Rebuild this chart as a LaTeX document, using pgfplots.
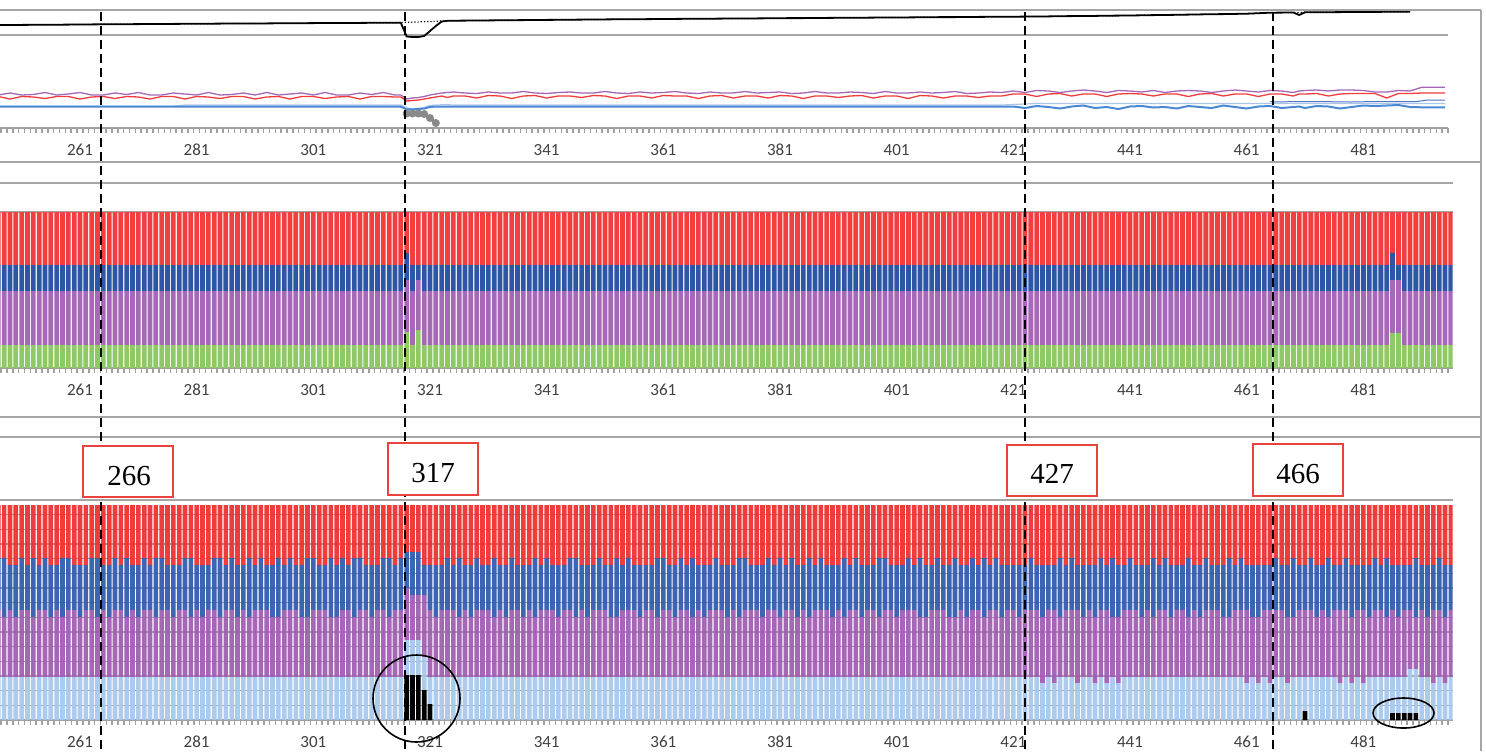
\documentclass[border=0pt]{standalone}
\usepackage{pgfplots}
\pgfplotsset{compat=1.18}
\usepackage{pgfplotstable}
\usepackage{fontspec}
\setmainfont{Carlito}
\newfontfamily\boxfont{Liberation Serif}

\definecolor{axgray}{HTML}{A0A0A0}
\definecolor{gridgray}{HTML}{A6A6A6}
\definecolor{framegray}{HTML}{A6A6A6}
\definecolor{labgray}{HTML}{404040}
\definecolor{lnpurple}{HTML}{A566B6}
\definecolor{lnred}{HTML}{F03C3C}
\definecolor{lnblue}{HTML}{4A88D4}
\definecolor{lnlblue}{HTML}{A9C6EA}
\definecolor{lndblue}{HTML}{4E74C4}
\definecolor{lngray}{HTML}{8A8A8A}
\definecolor{tred}{HTML}{F23E3E}
\definecolor{tblue}{HTML}{2E56A6}
\definecolor{tpurple}{HTML}{A868B8}
\definecolor{tgreen}{HTML}{8FC966}
\definecolor{bred}{HTML}{EE2C2C}
\definecolor{bblue}{HTML}{2C58AC}
\definecolor{bpurple}{HTML}{A05AB1}
\definecolor{blblue}{HTML}{A6C7EC}
\definecolor{boxred}{HTML}{E8433F}

\pgfplotstableread{
x bk bd pu re bl lb
247 103.0 103.0 33 31.5 21.3 21.8
249 103.1 103.1 35 29 21.3 21.8
251 103.1 103.1 33 31.5 21.3 21.8
253 103.2 103.2 33.5 31 21.3 21.8
255 103.3 103.3 35.5 29.5 21.3 21.8
257 103.3 103.3 33 31.5 21.3 21.8
259 103.4 103.4 34 31.5 21.3 21.8
261 103.5 103.5 35.5 29 21.3 21.8
263 103.6 103.6 33 31 21.3 21.8
265 103.7 103.7 33 31.5 21.3 21.8
267 103.8 103.8 35 29.5 21.3 21.8
269 103.8 103.8 33.5 31.5 21.3 21.8
271 103.9 103.9 35.5 31 21.3 21.8
273 104.0 104.0 33 29 21.3 21.8
275 104.0 104.0 33 31.5 21.3 21.8
277 104.1 104.1 35 31.5 21.3 21.8
279 104.2 104.2 34 29 21.3 23
281 104.3 104.3 33 31.5 21.3 23
283 104.3 104.3 35.5 31 21.3 23
285 104.4 104.4 33 29.5 21.3 23
287 104.5 104.5 33.5 31.5 21.3 23
289 104.5 104.5 35 31.5 21.3 23
291 104.6 104.6 33 29 21.3 23
293 104.6 104.6 35.5 31 21.3 23
295 104.7 104.7 33 31.5 21.3 23
297 104.8 104.8 34 29 21.3 23
299 104.8 104.8 35 31.5 21.3 23
301 104.9 104.9 33 31.5 21.3 23
303 105.0 105.0 35.5 29.5 21.3 23
305 105.0 105.0 33 31 21.3 23
307 105.1 105.1 33 31.5 21.3 23
309 105.1 105.1 35 29 21.3 23
311 105.2 105.2 33.5 31.5 21.3 23
313 105.2 105.2 35.5 31.5 21.3 23
315 105.3 105.3 33 31 21.3 23
316 105.3 105.5 33 31 21.3 23
317 91.5 105.7 29 27 18.7 20
318 91 105.9 30 27.5 18.5 19
319 91 106.1 30.5 28 19 19.5
320 92 106.3 31.5 29 19.5 20.5
321 97 106.5 33 30 21 22.5
322 102 106.7 34 31 21.5 23
323 106.5 107.0 35 32 21.3 23.2
324 107.2 107.2 35.5 30.5 21.3 23.3
325 107.3 107.3 36 32 21.3 23
327 107.4 107.4 35 32 21.3 23
329 107.5 107.5 34.5 30 21.3 23
331 107.6 107.6 36 32.5 21.3 23
333 107.7 107.7 35 32 21.3 23
335 107.8 107.8 35 29.5 21.3 23
337 107.9 107.9 36.5 32 21.3 23
339 108.0 108.0 35 32.5 21.3 23
341 108.1 108.1 34.5 30 21.3 23
343 108.2 108.2 35.5 32 21.3 23
345 108.3 108.3 36 32 21.3 23
347 108.4 108.4 35 30.5 21.3 23
349 108.5 108.5 35 32.5 21.3 23
351 108.6 108.6 36.5 32 21.3 23
353 108.7 108.7 35 29.5 21.3 23
355 108.8 108.8 34.5 32 21.3 23
357 108.8 108.8 36 32 21.3 23
359 108.9 108.9 35 30 21.3 23
361 109.0 109.0 35.5 32.5 21.3 23
363 109.1 109.1 36.5 32 21.3 23
365 109.2 109.2 35 32 21.3 23
367 109.2 109.2 34.5 29.5 21.3 23
369 109.3 109.3 36 32 21.3 23
371 109.4 109.4 35 32.5 21.3 23
373 109.5 109.5 35 30 21.3 23
375 109.6 109.6 36.5 32 21.3 23
377 109.6 109.6 35 32 21.3 23
379 109.7 109.7 35.5 30 21.3 23
381 109.8 109.8 36 32.5 21.3 23
383 109.9 109.9 34.5 32 21.3 23
385 109.9 109.9 35 29.5 21.3 23
387 110.0 110.0 36.5 32 21.3 23
389 110.1 110.1 35 32 21.3 23
391 110.2 110.2 35 30.5 21.3 23
393 110.3 110.3 36 32 21.3 23
395 110.3 110.3 35.5 32.5 21.3 23
397 110.4 110.4 34.5 30 21.3 23
399 110.5 110.5 36.5 32 21.3 23
401 110.6 110.6 35 32 21.3 23
403 110.6 110.6 35 29.5 21.3 23
405 110.7 110.7 36 32.5 21.3 23
407 110.8 110.8 35 32 21.3 23
409 110.9 110.9 35.5 30 21.3 23
411 110.9 110.9 36.5 32 21.3 23
413 111.0 111.0 34.5 32 21.3 23
415 111.1 111.1 35 30.5 21.3 23
417 111.2 111.2 36 32 21.3 23
419 111.2 111.2 35.5 32 21.3 23
421 111.3 111.3 37 34 21.5 23.5
423 111.4 111.4 35.5 34 20 24
425 111.5 111.5 37.5 31.5 22 24.5
427 111.6 111.6 37 34 21 24.5
429 111.8 111.8 35.5 34.5 19.5 24.5
431 111.9 111.9 37 32 21.5 24.5
433 112.0 112.0 38 34 22.5 24.5
435 112.1 112.1 37 34 20 24.5
437 112.3 112.3 35.5 31.5 21 24.5
439 112.4 112.4 37.5 34 19 24.5
441 112.5 112.5 37 34.5 21.5 24.5
443 112.7 112.7 36 34 22 24.5
445 112.9 112.9 37.5 32 20.5 24.5
447 113.0 113.0 35.5 34 21 24.5
449 113.2 113.2 37 34 19.5 24.5
451 113.4 113.4 37.5 31.5 22 24.5
453 113.6 113.6 37 34 21 24.5
455 113.8 113.8 35.5 34.5 20 24.5
457 113.9 113.9 37 32 22.5 24.5
459 114.1 114.1 38 34 21 24.5
461 114.3 114.3 37 34 19.5 24.5
463 114.8 114.8 36 31.5 21.5 24.5
465 115.3 115.3 37.5 34 22 24.5
467 115.4 115.4 37 34 20 24.5
469 115.5 115.5 35.5 32 21 24.5
470 113.0 115.6 37 34 21.5 24.5
471 115.7 115.7 37.5 34 20 24.5
473 115.8 115.8 38 34.5 22 24.5
475 115.8 115.8 37 32 21.5 24.5
477 115.9 115.9 38 34 19.5 24.5
479 116.0 116.0 38 34.5 21 24.5
481 116.1 116.1 37.5 34.5 22.5 24.5
483 116.1 116.1 36 34.5 22 24.5
485 116.2 116.2 36 30 22.5 24.5
487 116.2 116.2 37.5 34.5 23 24.5
489 116.3 116.3 37 34.5 21 24.5
491 nan nan 40.7 35 20.7 24.5
493 nan nan 40.7 35 20.7 24.5
495 nan nan 40.7 35 20.7 24.5
}\linesdata

\pgfplotstableread{
x g p b r k lb pu bl re
247 23 54 26 53 0 43 67 52 53
248 23 54 26 53 0 43 60 59 53
249 23 54 26 53 0 43 67 45 60
250 23 54 26 53 0 43 60 52 60
251 23 54 26 53 0 43 67 52 53
252 23 54 26 53 0 43 67 45 60
253 23 54 26 53 0 43 60 59 53
254 23 54 26 53 0 43 67 45 60
255 23 54 26 53 0 43 67 52 53
256 23 54 26 53 0 43 60 52 60
257 23 54 26 53 0 43 67 45 60
258 23 54 26 53 0 43 60 59 53
259 23 54 26 53 0 43 67 52 53
260 23 54 26 53 0 43 67 45 60
261 23 54 26 53 0 43 60 52 60
262 23 54 26 53 0 43 67 45 60
263 23 54 26 53 0 43 67 52 53
264 23 54 26 53 0 43 60 59 53
265 23 54 26 53 0 43 67 45 60
266 23 54 26 53 0 43 60 52 60
267 23 54 26 53 0 43 67 52 53
268 23 54 26 53 0 43 67 45 60
269 23 54 26 53 0 43 60 59 53
270 23 54 26 53 0 43 67 45 60
271 23 54 26 53 0 43 60 52 60
272 23 54 26 53 0 43 67 52 53
273 23 54 26 53 0 43 67 45 60
274 23 54 26 53 0 43 60 59 53
275 23 54 26 53 0 43 67 52 53
276 23 54 26 53 0 43 67 45 60
277 23 54 26 53 0 43 60 52 60
278 23 54 26 53 0 43 67 45 60
279 23 54 26 53 0 43 67 52 53
280 23 54 26 53 0 43 60 59 53
281 23 54 26 53 0 43 67 45 60
282 23 54 26 53 0 43 60 52 60
283 23 54 26 53 0 43 67 45 60
284 23 54 26 53 0 43 67 52 53
285 23 54 26 53 0 43 60 59 53
286 23 54 26 53 0 43 67 45 60
287 23 54 26 53 0 43 67 52 53
288 23 54 26 53 0 43 60 52 60
289 23 54 26 53 0 43 67 45 60
290 23 54 26 53 0 43 60 59 53
291 23 54 26 53 0 43 67 45 60
292 23 54 26 53 0 43 67 52 53
293 23 54 26 53 0 43 67 45 60
294 23 54 26 53 0 43 60 52 60
295 23 54 26 53 0 43 60 59 53
296 23 54 26 53 0 43 67 45 60
297 23 54 26 53 0 43 67 52 53
298 23 54 26 53 0 43 67 45 60
299 23 54 26 53 0 43 60 52 60
300 23 54 26 53 0 43 60 59 53
301 23 54 26 53 0 43 67 52 53
302 23 54 26 53 0 43 67 45 60
303 23 54 26 53 0 43 67 45 60
304 23 54 26 53 0 43 60 59 53
305 23 54 26 53 0 43 60 52 60
306 23 54 26 53 0 43 67 52 53
307 23 54 26 53 0 43 67 45 60
308 23 54 26 53 0 43 60 59 53
309 23 54 26 53 0 43 67 52 53
310 23 54 26 53 0 43 67 45 60
311 23 54 26 53 0 43 60 52 60
312 23 54 26 53 0 43 67 45 60
313 23 54 26 53 0 43 67 52 53
314 23 54 26 53 0 43 60 59 53
315 23 54 26 53 0 43 67 45 60
316 23 54 26 53 0 43 67 52 53
317 36 52 27 41 45 35 52 36 47
318 23 54 26 53 45 35 45 43 47
319 38 50 15 53 45 35 45 43 47
320 23 54 26 53 30 33 62 30 60
321 23 54 26 53 16 27 67 45 60
322 23 54 26 53 0 43 60 52 60
323 23 54 26 53 0 43 67 45 60
324 23 54 26 53 0 43 67 52 53
325 23 54 26 53 0 43 67 45 60
326 23 54 26 53 0 43 60 59 53
327 23 54 26 53 0 43 67 45 60
328 23 54 26 53 0 43 60 52 60
329 23 54 26 53 0 43 67 52 53
330 23 54 26 53 0 43 67 45 60
331 23 54 26 53 0 43 67 45 60
332 23 54 26 53 0 43 60 59 53
333 23 54 26 53 0 43 67 45 60
334 23 54 26 53 0 43 60 52 60
335 23 54 26 53 0 43 67 52 53
336 23 54 26 53 0 43 67 45 60
337 23 54 26 53 0 43 60 52 60
338 23 54 26 53 0 43 67 45 60
339 23 54 26 53 0 43 60 59 53
340 23 54 26 53 0 43 67 45 60
341 23 54 26 53 0 43 67 52 53
342 23 54 26 53 0 43 67 45 60
343 23 54 26 53 0 43 60 52 60
344 23 54 26 53 0 43 67 45 60
345 23 54 26 53 0 43 67 52 53
346 23 54 26 53 0 43 60 59 53
347 23 54 26 53 0 43 67 45 60
348 23 54 26 53 0 43 60 52 60
349 23 54 26 53 0 43 67 45 60
350 23 54 26 53 0 43 67 52 53
351 23 54 26 53 0 43 67 45 60
352 23 54 26 53 0 43 60 52 60
353 23 54 26 53 0 43 60 59 53
354 23 54 26 53 0 43 67 45 60
355 23 54 26 53 0 43 67 52 53
356 23 54 26 53 0 43 67 45 60
357 23 54 26 53 0 43 60 52 60
358 23 54 26 53 0 43 67 45 60
359 23 54 26 53 0 43 67 45 60
360 23 54 26 53 0 43 60 59 53
361 23 54 26 53 0 43 67 52 53
362 23 54 26 53 0 43 67 45 60
363 23 54 26 53 0 43 60 52 60
364 23 54 26 53 0 43 67 52 53
365 23 54 26 53 0 43 67 45 60
366 23 54 26 53 0 43 60 59 53
367 23 54 26 53 0 43 67 45 60
368 23 54 26 53 0 43 60 52 60
369 23 54 26 53 0 43 67 45 60
370 23 54 26 53 0 43 67 52 53
371 23 54 26 53 0 43 67 45 60
372 23 54 26 53 0 43 60 52 60
373 23 54 26 53 0 43 67 45 60
374 23 54 26 53 0 43 60 59 53
375 23 54 26 53 0 43 67 52 53
376 23 54 26 53 0 43 67 45 60
377 23 54 26 53 0 43 67 45 60
378 23 54 26 53 0 43 60 52 60
379 23 54 26 53 0 43 67 52 53
380 23 54 26 53 0 43 67 45 60
381 23 54 26 53 0 43 60 59 53
382 23 54 26 53 0 43 67 45 60
383 23 54 26 53 0 43 67 52 53
384 23 54 26 53 0 43 60 52 60
385 23 54 26 53 0 43 67 45 60
386 23 54 26 53 0 43 60 59 53
387 23 54 26 53 0 43 67 45 60
388 23 54 26 53 0 43 67 52 53
389 23 54 26 53 0 43 67 45 60
390 23 54 26 53 0 43 60 52 60
391 23 54 26 53 0 43 67 45 60
392 23 54 26 53 0 43 60 59 53
393 23 54 26 53 0 43 67 45 60
394 23 54 26 53 0 43 67 52 53
395 23 54 26 53 0 43 60 52 60
396 23 54 26 53 0 43 67 45 60
397 23 54 26 53 0 43 67 45 60
398 23 54 26 53 0 43 60 59 53
399 23 54 26 53 0 43 67 52 53
400 23 54 26 53 0 43 67 45 60
401 23 54 26 53 0 43 60 52 60
402 23 54 26 53 0 43 67 45 60
403 23 54 26 53 0 43 67 52 53
404 23 54 26 53 0 43 67 45 60
405 23 54 26 53 0 43 60 59 53
406 23 54 26 53 0 43 60 52 60
407 23 54 26 53 0 43 67 45 60
408 23 54 26 53 0 43 67 52 53
409 23 54 26 53 0 43 67 45 60
410 23 54 26 53 0 43 60 52 60
411 23 54 26 53 0 43 60 59 53
412 23 54 26 53 0 43 67 45 60
413 23 54 26 53 0 43 60 52 60
414 23 54 26 53 0 43 67 52 53
415 23 54 26 53 0 43 67 45 60
416 23 54 26 53 0 43 60 59 53
417 23 54 26 53 0 43 67 45 60
418 23 54 26 53 0 43 67 52 53
419 23 54 26 53 0 43 60 52 60
420 23 54 26 53 0 43 67 45 60
421 23 54 26 53 0 43 67 45 60
422 23 54 26 53 0 43 60 52 60
423 23 54 26 53 0 43 67 45 60
424 23 54 26 53 0 43 67 52 53
425 23 54 26 53 0 43 67 45 60
426 23 54 26 53 0 37 66 52 60
427 23 54 26 53 0 43 67 45 60
428 23 54 26 53 0 37 73 45 60
429 23 54 26 53 0 43 60 59 53
430 23 54 26 53 0 43 67 45 60
431 23 54 26 53 0 43 67 52 53
432 23 54 26 53 0 37 73 45 60
433 23 54 26 53 0 43 60 52 60
434 23 54 26 53 0 43 67 45 60
435 23 54 26 53 0 37 66 52 60
436 23 54 26 53 0 43 67 52 53
437 23 54 26 53 0 37 73 45 60
438 23 54 26 53 0 43 60 59 53
439 23 54 26 53 0 37 66 52 60
440 23 54 26 53 0 43 67 45 60
441 23 54 26 53 0 43 67 52 53
442 23 54 26 53 0 43 67 45 60
443 23 54 26 53 0 43 60 52 60
444 23 54 26 53 0 43 67 45 60
445 23 54 26 53 0 43 60 59 53
446 23 54 26 53 0 43 67 45 60
447 23 54 26 53 0 43 67 52 53
448 23 54 26 53 0 43 60 52 60
449 23 54 26 53 0 43 67 45 60
450 23 54 26 53 0 43 67 45 60
451 23 54 26 53 0 43 60 59 53
452 23 54 26 53 0 43 67 45 60
453 23 54 26 53 0 43 60 52 60
454 23 54 26 53 0 43 67 52 53
455 23 54 26 53 0 43 67 45 60
456 23 54 26 53 0 43 67 45 60
457 23 54 26 53 0 43 60 52 60
458 23 54 26 53 0 43 60 59 53
459 23 54 26 53 0 43 67 45 60
460 23 54 26 53 0 43 67 52 53
461 23 54 26 53 0 37 73 45 60
462 23 54 26 53 0 43 60 52 60
463 23 54 26 53 0 37 66 52 60
464 23 54 26 53 0 43 67 45 60
465 23 54 26 53 0 37 73 45 60
466 23 54 26 53 0 43 67 52 53
467 23 54 26 53 0 43 67 45 60
468 23 54 26 53 0 37 66 52 60
469 23 54 26 53 0 43 60 59 53
470 23 54 26 53 0 43 67 45 60
471 23 54 26 53 9 34 67 45 60
472 23 54 26 53 0 43 67 52 53
473 23 54 26 53 0 43 60 52 60
474 23 54 26 53 0 43 67 45 60
475 23 54 26 53 0 43 60 59 53
476 23 54 26 53 0 43 67 45 60
477 23 54 26 53 0 37 73 45 60
478 23 54 26 53 0 43 67 52 53
479 23 54 26 53 0 37 66 52 60
480 23 54 26 53 0 43 67 45 60
481 23 54 26 53 0 37 73 45 60
482 23 54 26 53 0 43 60 52 60
483 23 54 26 53 0 43 67 52 53
484 23 54 26 53 0 43 67 45 60
485 23 54 26 53 0 43 60 59 53
486 35 53 27 41 7 36 67 45 60
487 35 53 15 53 7 36 60 52 60
488 23 54 26 53 7 36 67 45 60
489 23 54 26 53 7 44 59 45 60
490 23 54 26 53 7 44 52 59 53
491 23 54 26 53 0 43 67 45 60
492 23 54 26 53 0 43 60 52 60
493 23 54 26 53 0 37 73 45 60
494 23 54 26 53 0 43 67 52 53
495 23 54 26 53 0 37 66 52 60
496 23 54 26 53 0 43 67 45 60
}\barsdata

\pgfplotsset{
  panel/.style={
    scale only axis,
    xmin=247.286,
    ymin=0,
    axis x line*=bottom,
    axis y line*=left,
    x axis line style={-, draw=axgray, line width=1pt},
    y axis line style={draw=none},
    xtick={261,281,...,481},
    minor xtick={247.5,248.5,...,496.5},
    major tick length=0pt,
    minor tick length=2.3pt,
    tick align=outside,
    xtick pos=bottom,
    ytick pos=left,
    minor tick style={axgray, line width=0.75pt},
    /pgf/number format/assume math mode=true,
    xticklabel style={font=\fontsize{8.5}{9}\selectfont, text=labgray,
      text height=5.6pt, text depth=0pt, yshift=-4.6pt},
    yticklabels={},
    ymajorgrids,
    grid style={gridgray, line width=0.7pt},
  }
}

\begin{document}
\begin{tikzpicture}
\path[use as bounding box] (0,0) rectangle (743pt,-375.5pt);
\clip (0,0) rectangle (743pt,-375.5pt);

% ---------- panel 1: lines ----------
\begin{axis}[panel, at={(0pt,-64pt)}, anchor=south west,
  width=723.95pt, height=59pt, xmax=495.5, ymax=118, ytick={93}]
\addplot[lnlblue, line width=0.6pt] table[x=x,y=lb]{\linesdata};
\addplot[lndblue, line width=0.5pt] coordinates {(465,26.3) (467,26) (469,26.5) (471,26.3) (475,26.3) (479,26) (483,26.5) (487,26.3) (490,26.3) (492,28) (495,28)};
\addplot[lnblue, line width=1pt] table[x=x,y=bl]{\linesdata};
\addplot[lnred, line width=0.65pt] table[x=x,y=re]{\linesdata};
\addplot[lnpurple, line width=0.65pt] table[x=x,y=pu]{\linesdata};
\addplot[black, line width=0.6pt, densely dotted, unbounded coords=jump] table[x=x,y=bd]{\linesdata};
\addplot[black, line width=0.9pt, unbounded coords=jump] table[x=x,y=bk]{\linesdata};
\addplot[lngray, line width=1.5pt, mark=*, mark size=1.2pt] coordinates {(317,14.5) (318,14.5) (319,14.5) (320,14) (321,10) (322,5)};
\end{axis}

% ---------- panel 2: 100% stacked ----------
\begin{axis}[panel, at={(0pt,-184pt)}, anchor=south west,
  width=726.3pt, height=92.5pt, xmax=496.3, ymax=185, ytick={156,185},
  ybar stacked, bar width=0.82]
\addplot[fill=tgreen, draw=none] table[x=x,y=g]{\barsdata};
\addplot[fill=tpurple, draw=none] table[x=x,y=p]{\barsdata};
\addplot[fill=tblue, draw=none] table[x=x,y=b]{\barsdata};
\addplot[fill=tred, draw=none] table[x=x,y=r]{\barsdata};
\end{axis}

% ---------- panel 3: stacked ----------
\begin{axis}[panel, at={(0pt,-360pt)}, anchor=south west,
  width=726.3pt, height=110pt, xmax=496.3, ymax=220,
  ytick={0,14.667,29.333,44,58.667,73.333,88,102.667,117.333,132,146.667,161.333,176,190.667,205.333,220},
  ybar stacked, bar width=0.8]
\addplot[fill=black, draw=none] table[x=x,y=k]{\barsdata};
\addplot[fill=blblue, draw=none, fill opacity=0.92] table[x=x,y=lb]{\barsdata};
\addplot[fill=bpurple, draw=none, fill opacity=0.92] table[x=x,y=pu]{\barsdata};
\addplot[fill=bblue, draw=none, fill opacity=0.92] table[x=x,y=bl]{\barsdata};
\addplot[fill=bred, draw=none, fill opacity=0.92] table[x=x,y=re]{\barsdata};
\end{axis}

% ---------- annotations (pixel units) ----------
\begin{scope}[x=0.5pt,y=-0.5pt]
\draw[framegray, line width=1pt] (0,10) -- (1481,10) (0,162) -- (1481,162)
  (0,417) -- (1481,417) (0,437) -- (1481,437) (1481,10) -- (1481,751);
\draw[black, line width=1.1pt, dash pattern=on 4.5pt off 2.5pt]
  (101,12) -- (101,751) (405,12) -- (405,751) (1025,12) -- (1025,751) (1273,12) -- (1273,751);
\foreach \xa/\ya/\xb/\yb/\tx/\cx/\cy in {83/446/173/497/266/129/476, 388/443/478/495/317/433/473, 1007/445/1097/496/427/1052/474, 1253/444/1343/496/466/1298/474}{
  \draw[boxred, line width=1pt, fill=white] (\xa,\ya) rectangle (\xb,\yb);
  \node[font=\boxfont\fontsize{14.5}{15}\selectfont, inner sep=0pt] at (\cx,\cy) {\tx};
}
\draw[black, line width=0.8pt] (416.5,698.5) circle [radius=43.5];
\draw[black, line width=0.8pt] (1403.5,713) ellipse [x radius=30.5, y radius=15];
\end{scope}
\end{tikzpicture}
\end{document}
